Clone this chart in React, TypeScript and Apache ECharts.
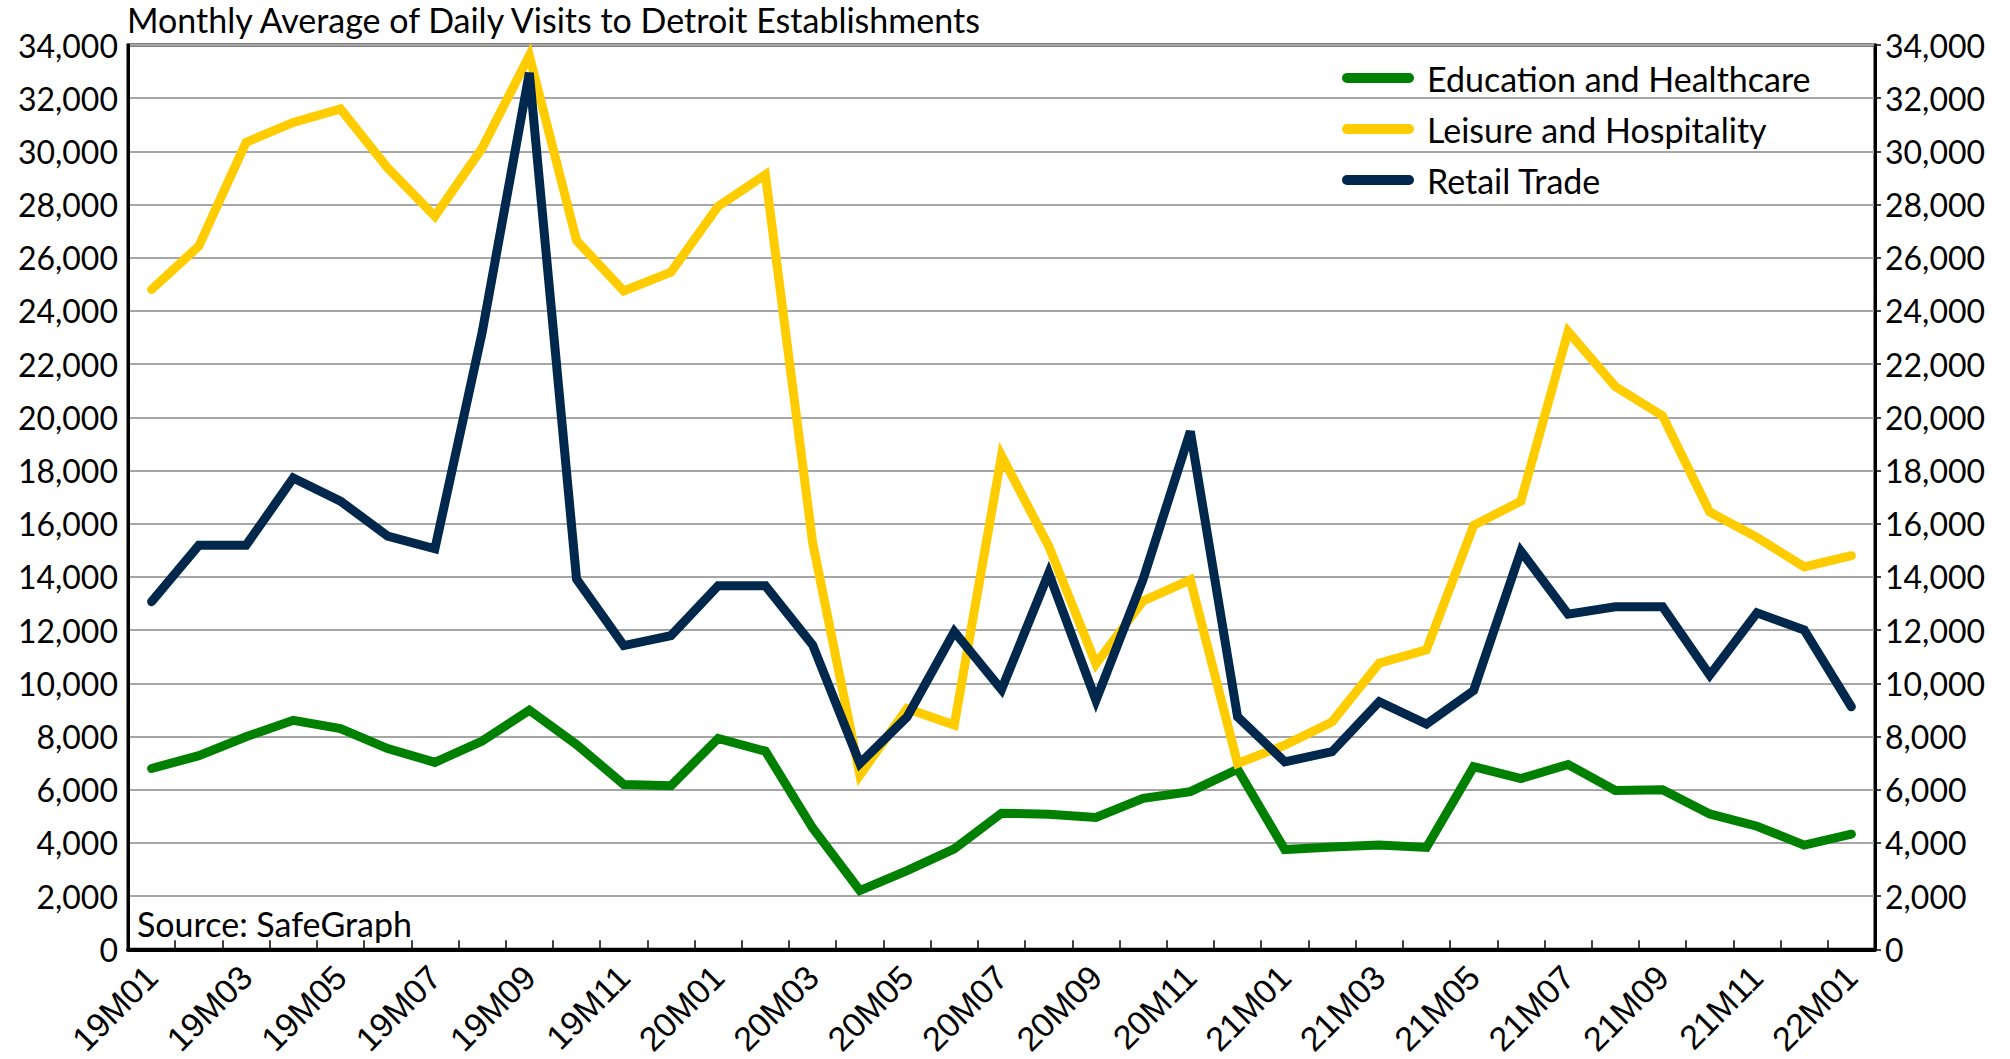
import React, { useEffect, useRef } from "react";
import * as echarts from "echarts";

const categories = [
  "19M01", "19M02", "19M03", "19M04", "19M05", "19M06", "19M07", "19M08", "19M09", "19M10", "19M11", "19M12",
  "20M01", "20M02", "20M03", "20M04", "20M05", "20M06", "20M07", "20M08", "20M09", "20M10", "20M11", "20M12",
  "21M01", "21M02", "21M03", "21M04", "21M05", "21M06", "21M07", "21M08", "21M09", "21M10", "21M11", "21M12",
  "22M01",
];

const educationHealthcare = [
  6800, 7280, 7990, 8610, 8300, 7550, 7030, 7830, 8990, 7700, 6200, 6155,
  7930, 7450, 4560, 2210, 2960, 3780, 5120, 5080, 4960, 5680, 5930, 6770,
  3750, 3850, 3920, 3830, 6870, 6420, 6950, 5970, 6000, 5090, 4630, 3920,
  4330,
];

const leisureHospitality = [
  24810, 26440, 30340, 31090, 31600, 29375, 27560, 30125, 33600, 26650, 24750, 25460,
  27940, 29125, 15290, 6550, 9050, 8430, 18560, 15160, 10730, 13100, 13890, 6990,
  7680, 8550, 10760, 11260, 15940, 16850, 23230, 21160, 20060, 16440, 15490, 14380,
  14800,
];

const retailTrade = [
  13070, 15190, 15190, 17720, 16850, 15540, 15060, 23190, 32950, 13915, 11420, 11795,
  13670, 13670, 11445, 6990, 8740, 11945, 9770, 14140, 9360, 13915, 19470, 8740,
  7050, 7430, 9310, 8470, 9730, 14970, 12600, 12880, 12880, 10310, 12650, 12010,
  9120,
];

const seriesNames = ["Education and Healthcare", "Leisure and Hospitality", "Retail Trade"];
const seriesColors = ["#008000", "#FFCC00", "#00274C"];

const titleText = "Monthly Average of Daily Visits to Detroit Establishments";
const sourceText = "Source: SafeGraph";

const Y_MIN = 0;
const Y_MAX = 34000;
const Y_INTERVAL = 2000;

const FONT = "Lato, 'Open Sans', sans-serif";

export default function App() {
  const ref = useRef<HTMLDivElement>(null);

  useEffect(() => {
    if (!ref.current) return;
    const chart = echarts.init(ref.current, undefined, { renderer: "svg" });
    const fmt = (v: number) => v.toLocaleString("en-US");
    const yAxisCommon = {
      type: "value" as const,
      min: Y_MIN,
      max: Y_MAX,
      interval: Y_INTERVAL,
      axisLine: { show: true, lineStyle: { color: "#000", width: 3 } },
      axisLabel: {
        formatter: fmt,
        color: "#000",
        fontFamily: FONT,
        fontSize: 32,
        margin: 10,
      },
    };
    const lineData = [educationHealthcare, leisureHospitality, retailTrade];
    chart.setOption({
      animation: false,
      backgroundColor: "#fff",
      title: {
        text: titleText,
        left: 127,
        top: 2,
        padding: 0,
        textStyle: { fontFamily: FONT, fontSize: 34, fontWeight: "normal", color: "#000" },
      },
      legend: {
        orient: "vertical",
        left: 1342,
        top: 61,
        padding: 0,
        itemWidth: 72,
        itemHeight: 10,
        itemGap: 17,
        icon: "path://M5,0 L67,0 A5,5 0 0 1 67,10 L5,10 A5,5 0 0 1 5,0 Z",
        data: seriesNames,
        textStyle: {
          fontFamily: FONT,
          fontSize: 34,
          color: "#000",
          lineHeight: 34,
          padding: [0, 0, 0, 8],
        },
      },
      grid: {
        left: 128,
        right: 135,
        top: 45,
        bottom: 107,
        containLabel: false,
        show: true,
        borderColor: "#000",
        borderWidth: 3,
      },
      xAxis: {
        type: "category",
        data: categories,
        boundaryGap: true,
        axisLine: { show: true, lineStyle: { color: "#000", width: 4 } },
        axisTick: {
          show: true,
          inside: true,
          interval: 0,
          length: 9,
          lineStyle: { color: "#000", width: 1.5 },
        },
        axisLabel: {
          interval: 1,
          rotate: 45,
          margin: 22,
          color: "#000",
          fontFamily: "'Liberation Sans', Arial, sans-serif",
          fontSize: 34,
        },
        splitLine: { show: false },
      },
      yAxis: [
        {
          ...yAxisCommon,
          position: "left",
          axisTick: { show: false },
          splitLine: { show: true, lineStyle: { color: "#a6a6a6", width: 2 } },
        },
        {
          ...yAxisCommon,
          position: "right",
          axisTick: { show: true, length: 6, lineStyle: { color: "#000", width: 1.5 } },
          splitLine: { show: false },
        },
      ],
      series: seriesNames.map((name, i) => ({
        name,
        type: "line",
        data: lineData[i],
        yAxisIndex: 0,
        symbol: "none",
        color: seriesColors[i],
        lineStyle: { color: seriesColors[i], width: 9, join: "miter", miterLimit: 10, cap: "round" },
        z: 2 + i,
      })),
      graphic: [
        {
          type: "text",
          left: 137,
          top: 906,
          style: {
            text: sourceText,
            fontFamily: FONT,
            fontSize: 34,
            fill: "#000",
          },
        },
      ],
    });
    return () => chart.dispose();
  }, []);

  return (
    <div
      ref={ref}
      style={{ position: "fixed", left: 0, top: 0, width: 2010, height: 1059, background: "#fff" }}
    />
  );
}
